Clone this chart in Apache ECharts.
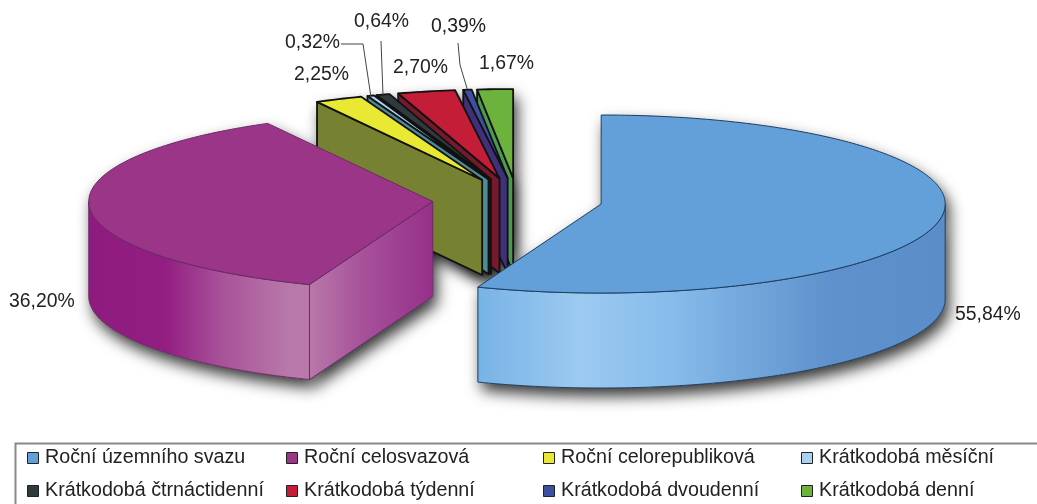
<!DOCTYPE html>
<html>
<head>
<meta charset="utf-8">
<style>
  html, body { margin: 0; padding: 0; background: #fff; }
  #chart { width: 1037px; height: 504px; }
</style>
<script src="https://cdn.jsdelivr.net/npm/echarts@6/dist/echarts.min.js"></script>
</head>
<body>
<div id="chart"></div>
<script>
const categories = [
  'Roční územního svazu', 'Roční celosvazová', 'Roční celorepubliková', 'Krátkodobá měsíční',
  'Krátkodobá čtrnáctidenní', 'Krátkodobá týdenní', 'Krátkodobá dvoudenní', 'Krátkodobá denní',
]
const shares = [55.84, 36.20, 2.25, 0.32, 0.64, 2.70, 0.39, 1.67]

const topColors = ['#639fd9', '#9a3587', '#e9e933', '#a9d2f2', '#2f3a3c', '#c41d38', '#3f4f9f', '#6cb33e']
const faceColors = ['#639fd9', '#9a3587', '#768231', '#4f8a97', '#151a1a', '#741a2c', '#40307a', '#4b9a50']
const strokeColors = ['#1d3f60', '#6a2a66', '#111', '#111', '#111', '#111', '#111', '#111']
const wallStops = [
  [[0, '#78b3e6'], [0.22, '#9ccaf0'], [0.4, '#88bdec'], [0.75, '#5f92cc'], [1, '#5b8dc8']],
  [[0, '#8f1b7f'], [0.35, '#931e82'], [0.6, '#a85299'], [0.9, '#b878a9'], [1, '#b97aaa']],
]
const purpleFaceStops = [[0, '#b878a9'], [0.45, '#a6509a'], [1, '#96308a']]

// pie geometry, px
const CX = 517.6
const CY = 200
const RX = 344
const RY = 89
const DEPTH = 95
const EXPLODE = 85

// label anchors (left, middle), px
const labelPos = [[955, 315], [9, 302], [294, 75], [285, 43], [354, 22], [393, 68], [431, 27], [479, 64]]
// leader start points, only for the labels that have one
const leaderStart = { 3: [[341, 44], [363, 44]], 4: [[381, 41]], 6: [[458, 43], [460, 65]] }

const total = shares.reduce((a, b) => a + b, 0)
const rad = d => d * Math.PI / 180

function sliceAngles(i) {
  const before = shares.slice(0, i).reduce((a, b) => a + b, 0)
  return [before / total * 360, (before + shares[i]) / total * 360]
}

function renderSlice(params) {
  const i = params.dataIndex
  const [start, end] = sliceAngles(i)
  const mid = rad((start + end) / 2)
  const cx = CX + EXPLODE * Math.sin(mid)
  const cy = CY - EXPLODE * (RY / RX) * Math.cos(mid)
  const pt = d => [cx + RX * Math.sin(rad(d)), cy - RY * Math.cos(rad(d))]
  const down = p => [p[0], p[1] + DEPTH]
  const apex = [cx, cy]

  const arc = (a, b) => {
    const pts = []
    for (let d = a; d < b; d += 1) pts.push(pt(d))
    pts.push(pt(b))
    return pts
  }

  const topPts = [apex, ...arc(start, end)]
  const z = i < 2 ? 20 + i : 10 - i
  const stroke = strokeColors[i]
  const lineWidth = i < 2 ? 1 : 1.8
  const children = []
  const poly = (points, fill, z2) => children.push({
    type: 'polygon',
    z2,
    shape: { points },
    style: { fill, stroke, lineWidth, lineJoin: 'round' },
  })
  const shadow = points => children.push({
    type: 'polygon',
    z2: 0,
    shape: { points },
    style: { fill: '#fff', shadowBlur: 15, shadowColor: 'rgba(0,0,0,0.8)', shadowOffsetX: 4, shadowOffsetY: 8 },
  })

  // flat cut face at the start edge
  let facePts = null
  if (Math.sin(rad(start)) < -1e-6) {
    const s = pt(start)
    facePts = [s, apex, down(apex), down(s)]
    shadow(facePts)
  }

  // curved outer wall, front half only
  const wa = Math.max(start, 90)
  const wb = Math.min(end, 270)
  let wallPts = null
  if (wb > wa) {
    const a = arc(wa, wb)
    wallPts = [...a, ...a.map(down).reverse()]
    shadow(wallPts)
  }
  shadow(topPts)

  if (facePts) {
    const fill = i === 1
      ? { type: 'linear', global: true, x: facePts[0][0], y: 0, x2: facePts[1][0], y2: 0,
          colorStops: purpleFaceStops.map(s => ({ offset: s[0], color: s[1] })) }
      : faceColors[i]
    poly(facePts, fill, z)
  }
  if (wallPts) {
    const xs = wallPts.map(p => p[0])
    const x = Math.min(...xs)
    const x2 = Math.max(...xs)
    poly(wallPts, {
      type: 'linear', global: true, x, y: 0, x2, y2: 0,
      colorStops: wallStops[i].map(s => ({ offset: s[0], color: s[1] })),
    }, z)
  }
  poly(topPts, topColors[i], z)

  children.push({
    type: 'text',
    z2: 40,
    style: {
      text: shares[i].toFixed(2).replace('.', ',') + '%',
      x: labelPos[i][0],
      y: labelPos[i][1],
      verticalAlign: 'middle',
      font: '19.4px "Liberation Sans"',
      fill: '#222',
    },
  })
  if (leaderStart[i]) {
    children.push({
      type: 'polyline',
      z2: 39,
      shape: { points: [...leaderStart[i], pt((start + end) / 2)] },
      style: { stroke: '#444', lineWidth: 1, fill: 'none' },
    })
  }
  return { type: 'group', children }
}

// legend frame and entries
const legendCols = [27, 286, 543, 801]
const legendRows = [458, 491]
const legendGraphic = [{
  type: 'rect',
  shape: { x: 15.5, y: 443.5, width: 1040, height: 80 },
  style: { fill: 'none', stroke: '#888', lineWidth: 2 },
}]
categories.forEach((name, i) => {
  const x = legendCols[i % 4]
  const y = legendRows[Math.floor(i / 4)]
  legendGraphic.push({
    type: 'rect',
    shape: { x: x + 0.5, y: y - 5.5, width: 11, height: 11 },
    style: { fill: topColors[i], stroke: '#222', lineWidth: 1 },
  })
  legendGraphic.push({
    type: 'text',
    style: { text: name, x: x + 18, y, verticalAlign: 'middle', font: '19.7px "Liberation Sans"', fill: '#222' },
  })
})

const chart = echarts.init(document.getElementById('chart'))
chart.setOption({
  backgroundColor: '#fff',
  animation: false,
  graphic: legendGraphic,
  series: [{
    type: 'custom',
    coordinateSystem: 'none',
    clip: false,
    silent: true,
    data: shares,
    renderItem: renderSlice,
  }],
})
</script>
</body>
</html>
